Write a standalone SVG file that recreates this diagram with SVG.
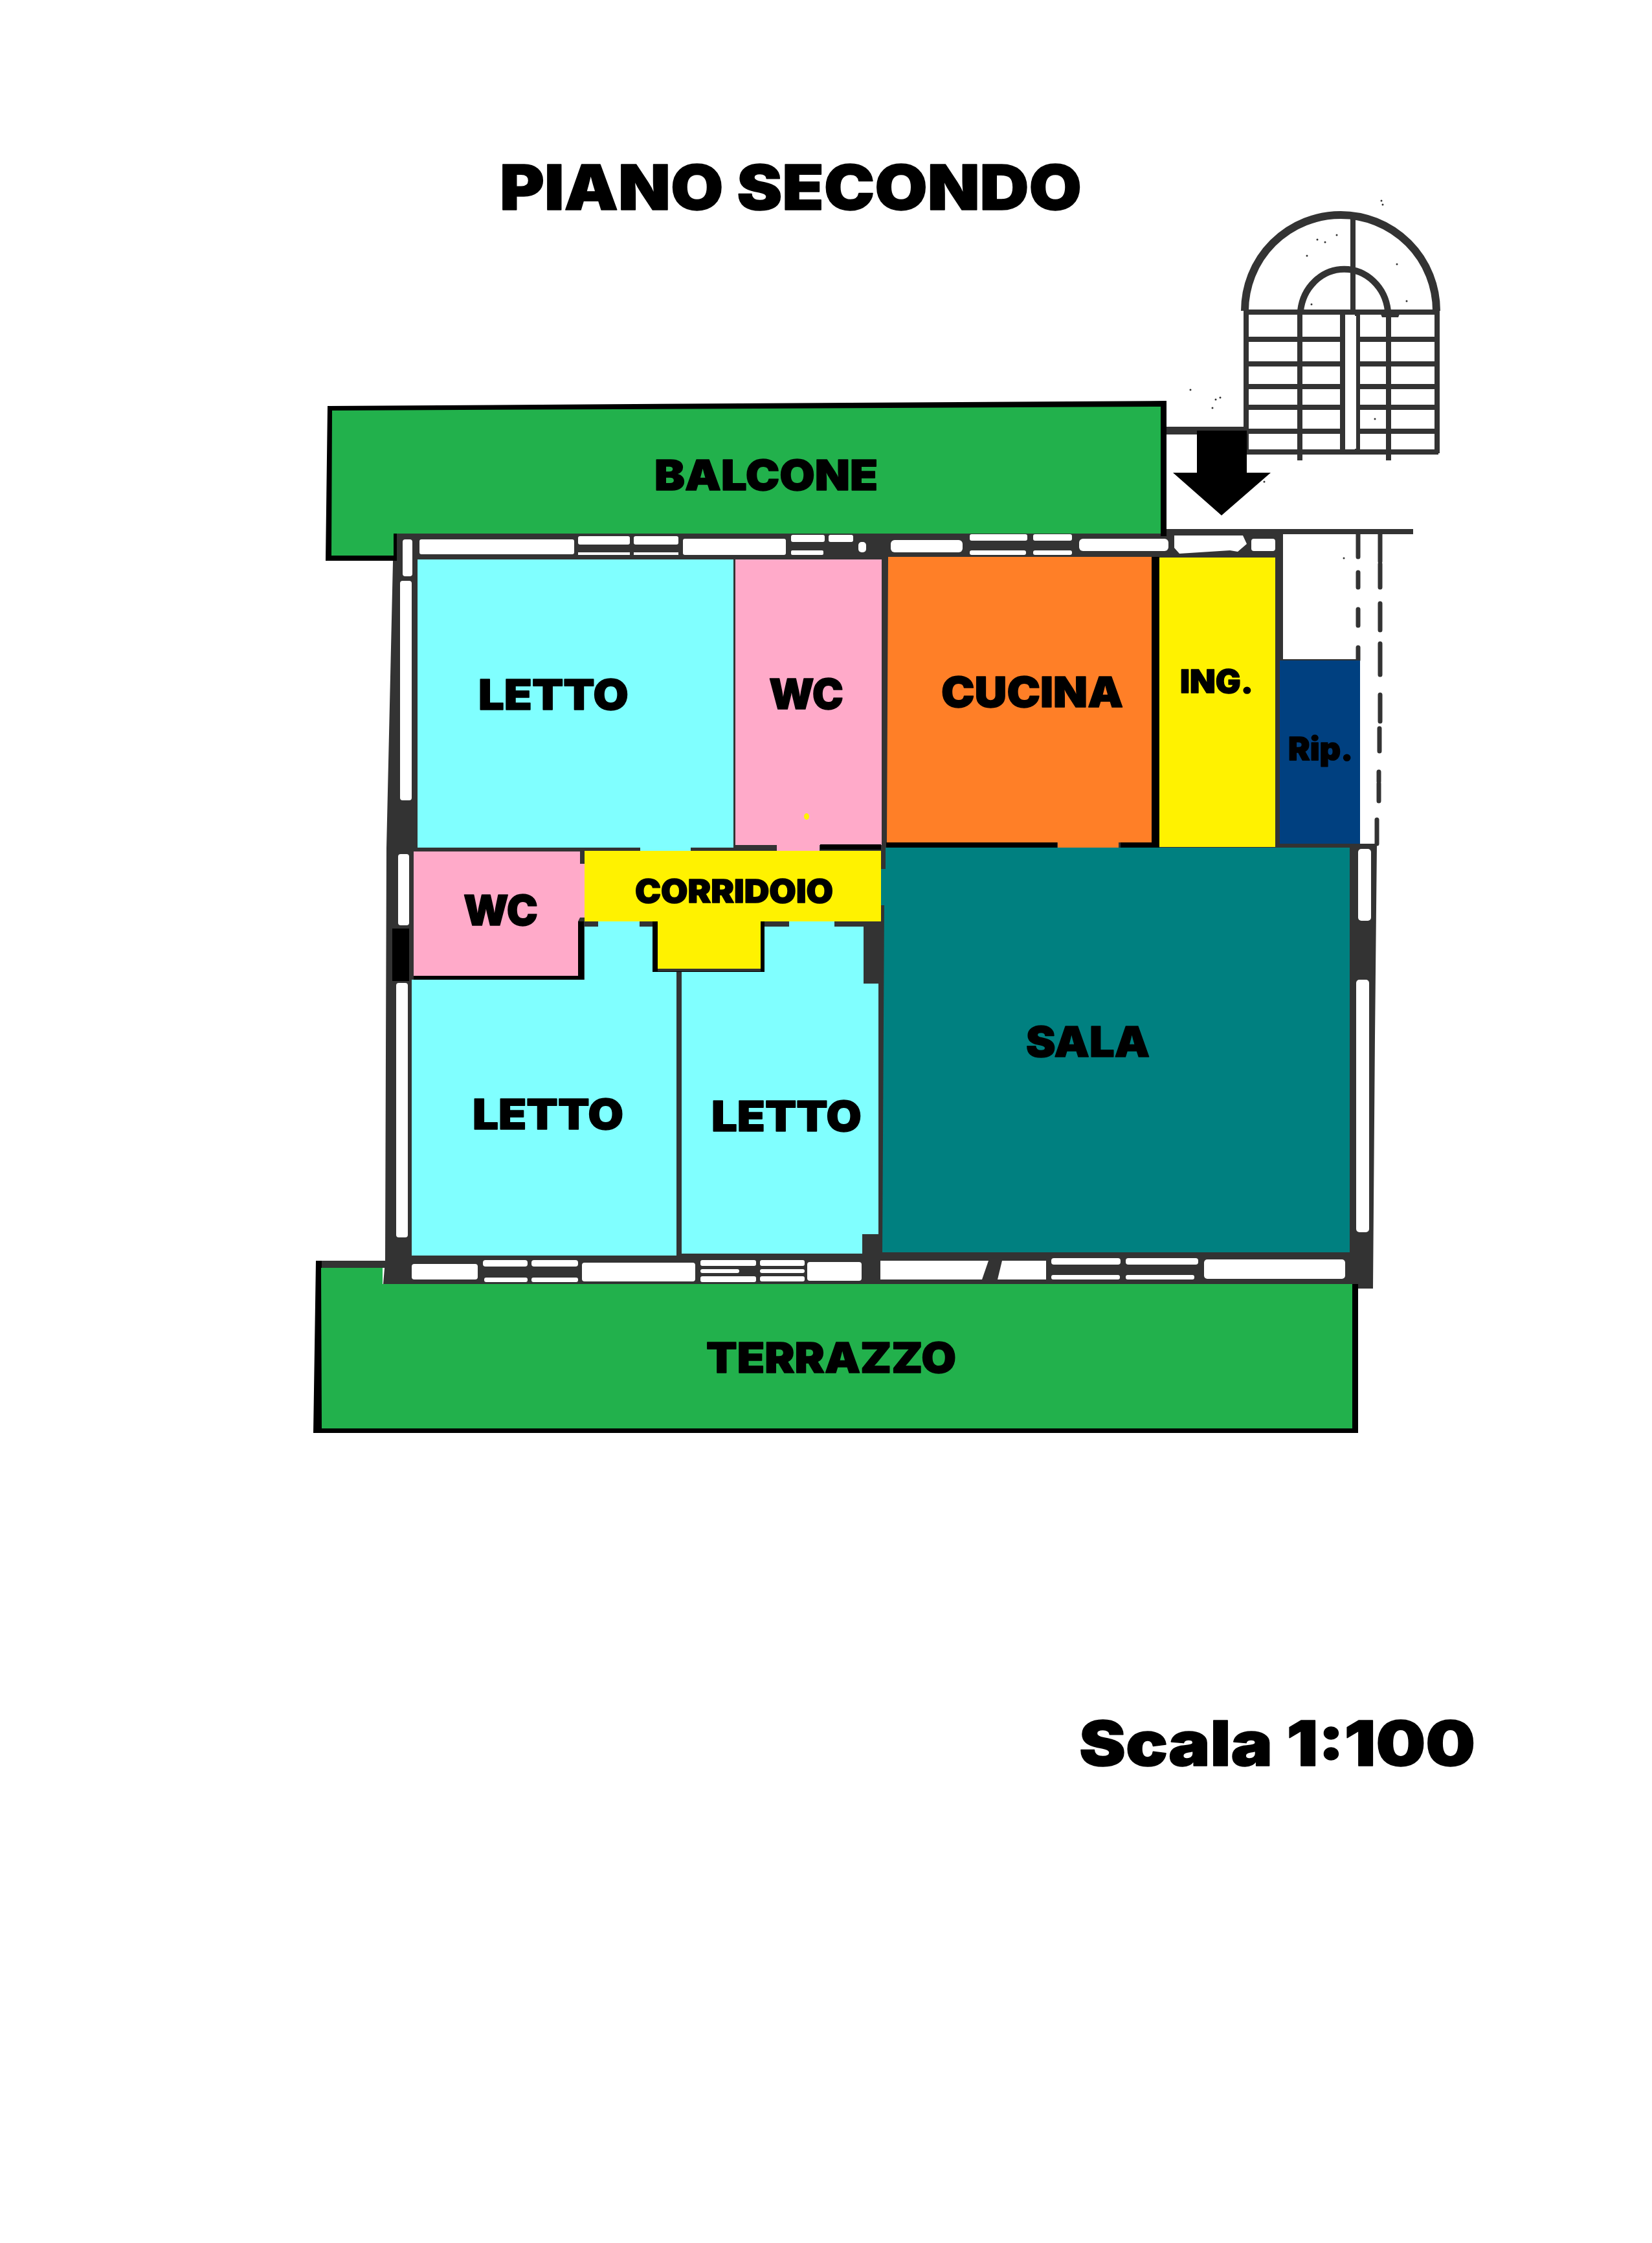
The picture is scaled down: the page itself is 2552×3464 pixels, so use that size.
<svg xmlns="http://www.w3.org/2000/svg" width="2552" height="3464" viewBox="0 0 2552 3464">
<style>
.bg{fill:#fff}
.d{fill:#333}
.k{fill:#000}
.w{fill:#fff}
.g{fill:#22B14C}
.ln{fill:none;stroke:#333;stroke-width:8}
.dash{fill:none;stroke:#333;stroke-width:7;stroke-linecap:round}
.cy{fill:#80FFFF}.pk{fill:#FFAAC9}.or{fill:#FF7F27}.ye{fill:#FFF200}.te{fill:#008080}.bl{fill:#004080}
text{font-family:Inter,"Liberation Sans",Arial,sans-serif;font-weight:900;fill:#000;stroke:#000;stroke-width:1.5px;stroke-linejoin:round}
.t{font-size:65px}
.s{font-size:49px}
.b{font-size:96px}
</style>
<rect class="bg" x="0" y="0" width="2552" height="3464"/>

<g id="specks" class="d">
<circle cx="2134" cy="310" r="1.5"/><circle cx="2136" cy="316" r="1.5"/><circle cx="2065" cy="363" r="1.5"/><circle cx="2035" cy="370" r="1.5"/><circle cx="2047" cy="374" r="1.5"/><circle cx="2019" cy="395" r="1.5"/><circle cx="2158" cy="408" r="1.5"/><circle cx="2173" cy="465" r="1.5"/><circle cx="2026" cy="470" r="1.5"/><circle cx="2124" cy="647" r="1.5"/><circle cx="1839" cy="602" r="1.5"/><circle cx="1878" cy="617" r="1.5"/><circle cx="1885" cy="614" r="1.5"/><circle cx="1873" cy="630" r="1.5"/><circle cx="1953" cy="744" r="1.5"/><circle cx="2076" cy="862" r="1.5"/>
</g>

<g id="stairs">
<path class="ln" style="stroke-width:12" d="M1923,480 A148,148 0 0 1 2219,480"/>
<path class="ln" style="stroke-width:10" d="M2009,480 A68,73 0 0 1 2144,480"/>
<path class="ln" d="M1923,482H2222M1925,524H2222M1925,562H2222M1925,597H2222M1925,629H2222M1925,666H2222M1925,698H2222"/>
<path class="ln" d="M1925,480V700M2008,480V711M2074,484V698M2097,484V700M2145,484V711M2220,480V700M2090,337V484"/>
<path class="d" d="M2130,478H2165L2160,490H2135Z"/>
<rect class="w" x="2078" y="488" width="17" height="205"/>
<path class="d" d="M1802,659H1925V671H1802Z"/>
</g>

<g id="walls">
<path class="d" d="M608,824H1802V817H2183V825H1982V1018H2101V1303H2127L2124,1600L2121,1990H2098V1983H592L595,1947L597,1310Z"/>
<g id="windows-top">
<rect class="w" x="648" y="833" width="239" height="23" rx="3"/>
<rect class="w" x="893" y="828" width="80" height="13" rx="3"/>
<rect class="w" x="979" y="828" width="69" height="13" rx="3"/>
<rect class="w" x="893" y="853" width="80" height="4"/>
<rect class="w" x="979" y="853" width="69" height="4"/>
<rect class="w" x="1055" y="832" width="159" height="25" rx="3"/>
<rect class="w" x="1222" y="826" width="52" height="11" rx="3"/>
<rect class="w" x="1280" y="826" width="38" height="11" rx="3"/>
<rect class="w" x="1222" y="850" width="50" height="7" rx="2"/>
<rect class="w" x="1326" y="837" width="12" height="16" rx="5"/>
<rect class="w" x="1376" y="834" width="111" height="19" rx="6"/>
<rect class="w" x="1498" y="825" width="89" height="10" rx="3"/>
<rect class="w" x="1596" y="825" width="60" height="10" rx="3"/>
<rect class="w" x="1498" y="850" width="87" height="7" rx="3"/>
<rect class="w" x="1596" y="850" width="60" height="7" rx="3"/>
<rect class="w" x="1667" y="832" width="138" height="19" rx="6"/>
<path class="w" d="M1814,827H1920L1926,840L1912,852L1900,850L1822,855L1814,846Z"/>
<rect class="w" x="1933" y="832" width="37" height="19" rx="4"/>
</g>
<g id="windows-left">
<rect class="w" x="622" y="833" width="15" height="57" rx="4"/>
<rect class="w" x="618" y="897" width="18" height="339" rx="4"/>
<rect class="w" x="615" y="1319" width="17" height="110" rx="4"/>
<rect class="w" x="612" y="1518" width="18" height="393" rx="4"/>
</g>
<g id="windows-right">
<rect class="w" x="2098" y="1311" width="20" height="111" rx="5"/>
<rect class="w" x="2095" y="1513" width="20" height="390" rx="5"/>
</g>
<g id="windows-bottom">
<rect class="w" x="636" y="1952" width="102" height="24" rx="4"/>
<rect class="w" x="746" y="1946" width="69" height="10" rx="4"/>
<rect class="w" x="821" y="1946" width="72" height="10" rx="4"/>
<rect class="w" x="748" y="1973" width="67" height="7" rx="3"/>
<rect class="w" x="821" y="1973" width="72" height="7" rx="3"/>
<rect class="w" x="899" y="1950" width="175" height="29" rx="4"/>
<rect class="w" x="1082" y="1946" width="86" height="9" rx="3"/>
<rect class="w" x="1174" y="1946" width="69" height="9" rx="3"/>
<rect class="w" x="1082" y="1960" width="60" height="6" rx="3"/>
<rect class="w" x="1174" y="1960" width="69" height="6" rx="3"/>
<rect class="w" x="1082" y="1971" width="86" height="9" rx="3"/>
<rect class="w" x="1174" y="1971" width="69" height="8" rx="3"/>
<rect class="w" x="1247" y="1949" width="84" height="29" rx="4"/>
<path class="w" d="M1360,1947H1527L1517,1976H1360Z"/>
<path class="w" d="M1548,1947H1616V1976H1541Z"/>
<rect class="w" x="1624" y="1943" width="107" height="10" rx="4"/>
<rect class="w" x="1739" y="1943" width="112" height="10" rx="4"/>
<rect class="w" x="1624" y="1969" width="106" height="7" rx="3"/>
<rect class="w" x="1739" y="1969" width="106" height="7" rx="3"/>
<rect class="w" x="1860" y="1945" width="218" height="30" rx="5"/>
</g>
<path class="dash" d="M2098,825V860M2098,884V907M2098,941V966M2098,1000V1019M2132,825V867M2132,871V907M2132,932V973M2132,994V1042M2132,1073V1114M2131,1125V1160M2130,1192V1207M2130,1210V1237M2127,1266V1303"/>
</g>

<g id="balcone">
<path class="k" d="M506,627L1802,619V828H1793V824H613V866H503Z"/>
<path class="g" d="M513,634L1793,628V824H608V858H512Z"/>
<text x="1011" y="757" class="t" textLength="345" lengthAdjust="spacingAndGlyphs">BALCONE</text>
</g>
<g id="terrazzo">
<rect class="d" x="488" y="1947" width="110" height="11"/>
<path class="k" d="M488,1947H497V2206H2089V1983H2098V2213H484Z"/>
<path class="g" d="M496,1958H591V1983H2089V2206H497Z"/>
<text x="1091" y="2120" class="t" textLength="386" lengthAdjust="spacingAndGlyphs">TERRAZZO</text>
</g>

<g id="arrow">
<path class="k" d="M1849,665H1926V730H1963L1887,796L1812,730H1849Z"/>
</g>

<g id="letto-1">
<path class="cy" d="M645,864H1133V1309H1067V1315H989V1309H645Z"/>
<text x="739" y="1096" class="t" textLength="232" lengthAdjust="spacingAndGlyphs">LETTO</text>
</g>
<g id="wc-1">
<path class="pk" d="M1136,864H1362V1305H1266V1314H1200V1305H1136Z"/>
<ellipse cx="1246" cy="1261" rx="4" ry="5" class="ye"/>
<text x="1188" y="1095" class="t" textLength="115" lengthAdjust="spacingAndGlyphs">WC</text>
</g>
<g id="cucina">
<path class="or" d="M1372,860H1779V1301H1728V1310H1634V1301H1370Z"/>
<text x="1454" y="1092" class="t" textLength="281" lengthAdjust="spacingAndGlyphs">CUCINA</text>
</g>
<g id="ingresso">
<rect class="ye" x="1791" y="861" width="179" height="447"/>
<text x="1823" y="1070" class="s" textLength="113" lengthAdjust="spacingAndGlyphs">ING.</text>
</g>
<g id="ripostiglio">
<rect class="bl" x="1977" y="1020" width="124" height="283"/>
<text x="1990" y="1174" class="s" textLength="100" lengthAdjust="spacingAndGlyphs">Rip.</text>
</g>
<g id="black-lines">
<rect class="k" x="1779" y="860" width="12" height="450"/>
<rect class="k" x="1369" y="1301" width="264" height="8"/>
<rect class="k" x="1731" y="1301" width="51" height="8"/>
<rect class="k" x="1267" y="1304" width="94" height="8"/>
</g>
<g id="sala">
<path class="te" d="M1368,1309H2085V1934H1363L1366,1398H1360V1342H1368Z"/>
<text x="1585" y="1632" class="t" textLength="191" lengthAdjust="spacingAndGlyphs">SALA</text>
</g>
<g id="letto-2">
<path class="cy" d="M636,1513H903V1431H924V1423H988V1431H1008V1500H1045V1939H636Z"/>
<text x="730" y="1744" class="t" textLength="233" lengthAdjust="spacingAndGlyphs">LETTO</text>
</g>
<g id="letto-3">
<path class="cy" d="M1053,1500H1181V1431H1219V1423H1289V1431H1334V1519H1357V1906H1332V1936H1053Z"/>
<text x="1099" y="1747" class="t" textLength="232" lengthAdjust="spacingAndGlyphs">LETTO</text>
</g>
<g id="wc-2">
<path class="k" d="M639,1507H893V1423H902V1513H639Z"/>
<path class="pk" d="M639,1315H896V1334H903V1417H896L893,1423V1507H639Z"/>
<rect class="k" x="606" y="1434" width="26" height="81"/>
<text x="716" y="1429" class="t" textLength="115" lengthAdjust="spacingAndGlyphs">WC</text>
</g>
<g id="corridoio">
<path class="k" d="M1008,1423H1016V1500H1175V1423H1181V1501H1008Z"/>
<path class="ye" d="M903,1314H1361V1423H1175V1496H1016V1423H903Z"/>
<text x="981" y="1394" class="s" textLength="306" lengthAdjust="spacingAndGlyphs">CORRIDOIO</text>
</g>

<g id="titles">
<text x="772" y="324" class="b" textLength="899" lengthAdjust="spacingAndGlyphs">PIANO SECONDO</text>
<text x="1667" y="2727" class="b" textLength="612" lengthAdjust="spacingAndGlyphs">Scala 1:100</text>
</g>
</svg>
